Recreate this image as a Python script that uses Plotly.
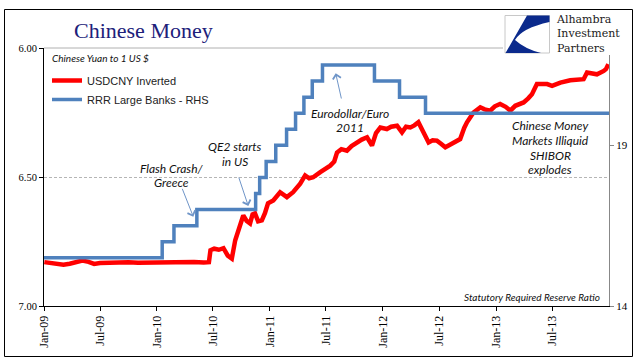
import plotly.graph_objects as go

# ---------------- data ----------------
cny_dates = [
    "2009-01-02", "2009-01-20", "2009-02-10", "2009-03-05", "2009-03-25", "2009-04-15",
    "2009-05-05", "2009-05-25", "2009-06-12", "2009-07-01", "2009-08-01", "2009-09-01",
    "2009-10-01", "2009-11-01", "2009-12-01", "2010-01-01", "2010-02-01", "2010-03-01",
    "2010-04-01", "2010-05-01", "2010-06-01", "2010-06-18", "2010-06-23", "2010-07-05",
    "2010-07-20", "2010-08-04", "2010-08-18", "2010-08-31", "2010-09-11", "2010-09-20",
    "2010-10-07", "2010-10-18", "2010-10-29", "2010-11-06", "2010-11-14", "2010-11-24",
    "2010-12-06", "2010-12-16", "2010-12-26", "2011-01-12", "2011-02-03", "2011-02-25",
    "2011-03-17", "2011-04-09", "2011-04-25", "2011-05-08", "2011-05-21", "2011-06-13",
    "2011-07-15", "2011-07-28", "2011-08-06", "2011-08-20", "2011-09-07", "2011-09-22",
    "2011-10-09", "2011-10-25", "2011-11-11", "2011-11-27", "2011-12-10", "2011-12-24",
    "2012-01-14", "2012-01-28", "2012-02-16", "2012-03-03", "2012-03-16", "2012-03-30",
    "2012-04-12", "2012-04-25", "2012-05-06", "2012-05-17", "2012-05-28", "2012-06-10",
    "2012-06-24", "2012-07-08", "2012-07-21", "2012-08-05", "2012-08-17", "2012-09-07",
    "2012-09-20", "2012-09-29", "2012-10-20", "2012-11-11", "2012-11-25", "2012-12-13",
    "2012-12-28", "2013-01-14", "2013-02-01", "2013-02-16", "2013-03-04", "2013-03-31",
    "2013-04-15", "2013-04-27", "2013-05-13", "2013-06-01", "2013-06-15", "2013-07-01",
    "2013-07-28", "2013-08-29", "2013-09-20", "2013-10-11", "2013-10-22", "2013-11-10",
    "2013-11-23", "2013-12-15", "2013-12-22", "2013-12-30",
]
cny_values = [
    6.830, 6.834, 6.838, 6.840, 6.836, 6.830,
    6.824, 6.829, 6.837, 6.833, 6.831, 6.832,
    6.830, 6.832, 6.831, 6.833, 6.831, 6.832,
    6.830, 6.829, 6.831, 6.830, 6.784, 6.778,
    6.782, 6.776, 6.805, 6.816, 6.745, 6.707,
    6.649, 6.670, 6.680, 6.645, 6.641, 6.672,
    6.668, 6.640, 6.602, 6.591, 6.559, 6.578,
    6.559, 6.526, 6.494, 6.505, 6.501, 6.481,
    6.456, 6.440, 6.405, 6.392, 6.398, 6.380,
    6.366, 6.355, 6.346, 6.378, 6.330, 6.308,
    6.314, 6.305, 6.301, 6.327, 6.305, 6.308,
    6.300, 6.288, 6.314, 6.340, 6.366, 6.358,
    6.359, 6.372, 6.385, 6.375, 6.366, 6.353,
    6.310, 6.288, 6.250, 6.230, 6.238, 6.243,
    6.226, 6.217, 6.228, 6.243, 6.224, 6.211,
    6.195, 6.179, 6.140, 6.138, 6.140, 6.147,
    6.134, 6.125, 6.122, 6.121, 6.095, 6.098,
    6.102, 6.089, 6.082, 6.063,
]

rrr_dates = [
    "2009-01-01", "2010-01-18", "2010-02-25", "2010-05-10", "2010-11-16", "2010-11-29",
    "2010-12-20", "2011-01-20", "2011-02-24", "2011-03-25", "2011-04-21", "2011-05-18",
    "2011-06-20", "2011-12-05", "2012-02-24", "2012-05-18", "2014-01-01",
]
rrr_values = [
    15.5, 16.0, 16.5, 17.0, 17.5, 18.0,
    18.5, 19.0, 19.5, 20.0, 20.5, 21.0,
    21.5, 21.0, 20.5, 20.0, 20.0,
]

x_tick_dates = ["2009-01-01", "2009-07-01", "2010-01-01", "2010-07-01", "2011-01-01",
                "2011-07-01", "2012-01-01", "2012-07-01", "2013-01-01", "2013-07-01"]
x_tick_labels = ["Jan-09", "Jul-09", "Jan-10", "Jul-10", "Jan-11",
                 "Jul-11", "Jan-12", "Jul-12", "Jan-13", "Jul-13"]
left_ticks = [6.0, 6.5, 7.0]
left_tick_labels = ["6.00", "6.50", "7.00"]
right_ticks = [14, 19]
right_tick_labels = ["14", "19"]

# ---------------- geometry helpers ----------------
W, H = 641, 361
L, R, T, B = 44, 32, 48, 55
PW = W - L - R
PH = H - T - B


def px(x):
    return (x - L) / PW


def py(y):
    return (H - B - y) / PH


SERIF = "Liberation Serif"
SANS = "Liberation Sans"
ITAL = "Lato"

fig = go.Figure()
fig.add_trace(go.Scatter(
    x=rrr_dates, y=rrr_values, yaxis="y2", mode="lines",
    name="RRR Large Banks - RHS", legendrank=2,
    line=dict(color="#4F81BD", width=3.5, shape="hv"),
))
fig.add_trace(go.Scatter(
    x=cny_dates, y=cny_values, mode="lines",
    name="USDCNY Inverted", legendrank=1,
    line=dict(color="#FF0000", width=4.5),
))

navy = "#0b2a8c"
logo_path = "M {a},{b} L {c},{b} L {c},{d} Q {e},{f} {g},{h} Q {i},{j} {k},{l} L {m},{l} Z".format(
    a=px(527), b=py(15.5), c=px(549.5), d=py(22), e=px(522), f=py(28),
    g=px(515), h=py(40), i=px(525), j=py(49), k=px(541), l=py(53), m=px(505.5))

border = dict(color="#000000", width=1)
shapes = [
    dict(type="line", xref="paper", yref="paper", x0=px(4.5), x1=px(632.5), y0=py(9.5), y1=py(9.5),
         line=border, layer="above"),
    dict(type="line", xref="paper", yref="paper", x0=px(4.5), x1=px(632.5), y0=py(356.5), y1=py(356.5),
         line=border, layer="above"),
    dict(type="line", xref="paper", yref="paper", x0=px(4.5), x1=px(4.5), y0=py(9.5), y1=py(356.5),
         line=border, layer="above"),
    dict(type="line", xref="paper", yref="paper", x0=px(632.5), x1=px(632.5), y0=py(9.5), y1=py(356.5),
         line=border, layer="above"),
    dict(type="line", xref="paper", yref="paper", x0=0, x1=px(503), y0=1, y1=1,
         line=dict(color="#b0b0b0", width=1), layer="above"),
    dict(type="rect", xref="paper", yref="paper", x0=px(503), x1=px(630), y0=py(55), y1=py(11),
         line=dict(width=0), fillcolor="white", layer="above"),
    dict(type="rect", xref="paper", yref="paper", x0=px(505), x1=px(549.5), y0=py(53), y1=py(15.5),
         line=dict(color="#c8c8c8", width=1), fillcolor="white", layer="above"),
    dict(type="path", xref="paper", yref="paper", path=logo_path,
         line=dict(width=0), fillcolor=navy, layer="above"),
]


def txt(x, y, s, size=12, family=ITAL, color="#111111", xanchor="center", italic=True):
    return dict(x=px(x), y=py(y), xref="paper", yref="paper", text=("<i>%s</i>" % s) if italic else s,
                showarrow=False, xanchor=xanchor, yanchor="middle",
                font=dict(family=family, size=size, color=color))


def arrow(hx, hy, tx, ty):
    return dict(x=px(hx), y=py(hy), xref="paper", yref="paper", text="", showarrow=True,
                ax=tx - hx, ay=ty - hy, arrowhead=4, arrowsize=1.6, arrowwidth=1,
                arrowcolor="#6f95c8")


LOGO_FONT = "DejaVu Serif"
logo_text = txt(554, 34, "Alhambra<br>Investment<br>Partners", size=11, family=LOGO_FONT,
                color="#1a1a1a", xanchor="left", italic=False)
logo_text["align"] = "left"

annotations = [
    txt(143, 30, "Chinese Money", size=22, family=SERIF, color="#20207a", italic=False),
    logo_text,
    txt(50, 58, "Chinese Yuan to 1 US $", size=10, xanchor="left"),
    txt(171.7, 168.3, "Flash Crash/"),
    txt(171.7, 182.7, "Greece"),
    txt(235, 146.7, "QE2 starts"),
    txt(235, 161.7, "in US"),
    txt(350, 113.3, "Eurodollar/Euro"),
    txt(350, 127.3, "2011"),
    txt(550, 125, "Chinese Money"),
    txt(550, 140, "Markets Illiquid"),
    txt(550, 155, "SHIBOR"),
    txt(550, 169, "explodes"),
    txt(602, 297, "Statutory Required Reserve Ratio", size=10, xanchor="right"),
    arrow(193.3, 216.7, 181.7, 187.3),
    arrow(248.3, 206, 238.3, 176),
    arrow(335.7, 73.3, 341.7, 100),
]

fig.update_layout(
    width=W, height=H,
    margin=dict(l=L, r=R, t=T, b=B, pad=0),
    paper_bgcolor="white", plot_bgcolor="white",
    showlegend=True,
    legend=dict(x=px(47), y=py(66), xanchor="left", yanchor="top",
                bgcolor="rgba(0,0,0,0)", font=dict(family=SANS, size=11, color="#222222"),
                itemwidth=30, tracegroupgap=0),
    xaxis=dict(type="date", range=["2009-01-01", "2014-01-01"],
               tickvals=x_tick_dates, ticktext=x_tick_labels, tickangle=-90,
               tickfont=dict(family=SERIF, size=12, color="#000000"),
               ticks="outside", ticklen=4, tickcolor="#000000",
               showline=True, linecolor="#000000", linewidth=1,
               showgrid=False, zeroline=False, automargin=False),
    yaxis=dict(range=[7.0, 6.0], tickvals=left_ticks, ticktext=left_tick_labels,
               tickfont=dict(family=SERIF, size=10.5, color="#000000"),
               ticks="outside", ticklen=4, tickcolor="#000000",
               showline=True, linecolor="#000000", linewidth=1,
               showgrid=True, gridcolor="#b5b5b5", gridwidth=1, griddash="3px,2px",
               zeroline=False, automargin=False),
    yaxis2=dict(range=[14, 22.03], overlaying="y", side="right",
                tickvals=right_ticks, ticktext=right_tick_labels,
                tickfont=dict(family=SERIF, size=11, color="#000000"),
                ticks="outside", ticklen=4, tickcolor="#888888",
                showline=True, linecolor="#888888", linewidth=1,
                showgrid=False, zeroline=False, automargin=False),
    shapes=shapes,
    annotations=annotations,
)

fig.write_html(
    "out.html",
    config={"displayModeBar": False},
    post_script="document.body.style.margin='0';document.body.style.padding='0';"
                "document.documentElement.style.overflow='hidden';",
)
